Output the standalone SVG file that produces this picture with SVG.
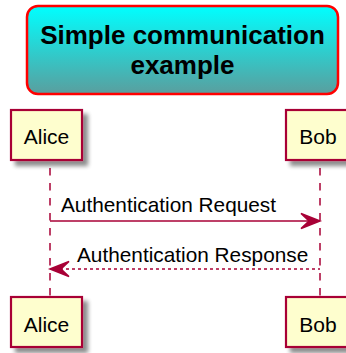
<svg xmlns="http://www.w3.org/2000/svg" width="346" height="353" viewBox="0 0 346 353">
<style>
.part{fill:#FEFECE;stroke:#A80036;stroke-width:2.2}
.ptxt{font-family:"Liberation Sans",Arial,sans-serif;font-size:21px;fill:#000;text-anchor:middle}
.mtxt{font-family:"Liberation Sans",Arial,sans-serif;font-size:20.8px;fill:#000}
.ttxt{font-family:"Liberation Sans",Arial,sans-serif;font-size:26px;font-weight:bold;fill:#000;text-anchor:middle}
.life{stroke:#A80036;stroke-width:1.5;stroke-dasharray:7.5,7.5;fill:none}
</style>
<defs>
<linearGradient id="tg" x1="0" y1="0" x2="0" y2="1">
<stop offset="0" stop-color="#00FFFF"/>
<stop offset="1" stop-color="#5A9E9E"/>
</linearGradient>
<filter id="sh" x="-20%" y="-20%" width="150%" height="150%">
<feGaussianBlur in="SourceAlpha" stdDeviation="2"/>
<feOffset dx="5" dy="5" result="b"/>
<feComponentTransfer><feFuncA type="linear" slope="0.45"/></feComponentTransfer>
<feMerge><feMergeNode/><feMergeNode in="SourceGraphic"/></feMerge>
</filter>
</defs>
<g id="title">
<rect x="27" y="6" width="311" height="88" rx="11" ry="11" fill="url(#tg)" stroke="#FF0000" stroke-width="2.5"/>
<text class="ttxt" x="182.5" y="44">Simple communication</text>
<text class="ttxt" x="182.5" y="74">example</text>
</g>
<g id="connectors">
<line class="life" x1="50" y1="168" x2="50" y2="296"/>
<line class="life" x1="320" y1="168" x2="320" y2="296"/>
<g id="msg1">
<line x1="50" y1="221" x2="316" y2="221" stroke="#A80036" stroke-width="1.5"/>
<polygon points="320,221 301,213.5 309,221 301,228.5" fill="#A80036" stroke="#A80036" stroke-width="1.5"/>
<text class="mtxt" x="61" y="212">Authentication Request</text>
</g>
<g id="msg2">
<line x1="54" y1="269" x2="320" y2="269" stroke="#A80036" stroke-width="1.5" stroke-dasharray="3,3"/>
<polygon points="50,269 69,261.5 61,269 69,276.5" fill="#A80036" stroke="#A80036" stroke-width="1.5"/>
<text class="mtxt" x="77" y="262">Authentication Response</text>
</g>
</g>
<g id="alice-top">
<rect class="part" x="11" y="110" width="71" height="50" filter="url(#sh)"/>
<text class="ptxt" x="46.5" y="144">Alice</text>
</g>
<g id="bob-top">
<rect class="part" x="286" y="110" width="68" height="50" filter="url(#sh)"/>
<text class="ptxt" x="318" y="144">Bob</text>
</g>
<g id="alice-bottom">
<rect class="part" x="11" y="297" width="71" height="50" filter="url(#sh)"/>
<text class="ptxt" x="46.5" y="332">Alice</text>
</g>
<g id="bob-bottom">
<rect class="part" x="286" y="297" width="68" height="50" filter="url(#sh)"/>
<text class="ptxt" x="318" y="332">Bob</text>
</g>
</svg>
